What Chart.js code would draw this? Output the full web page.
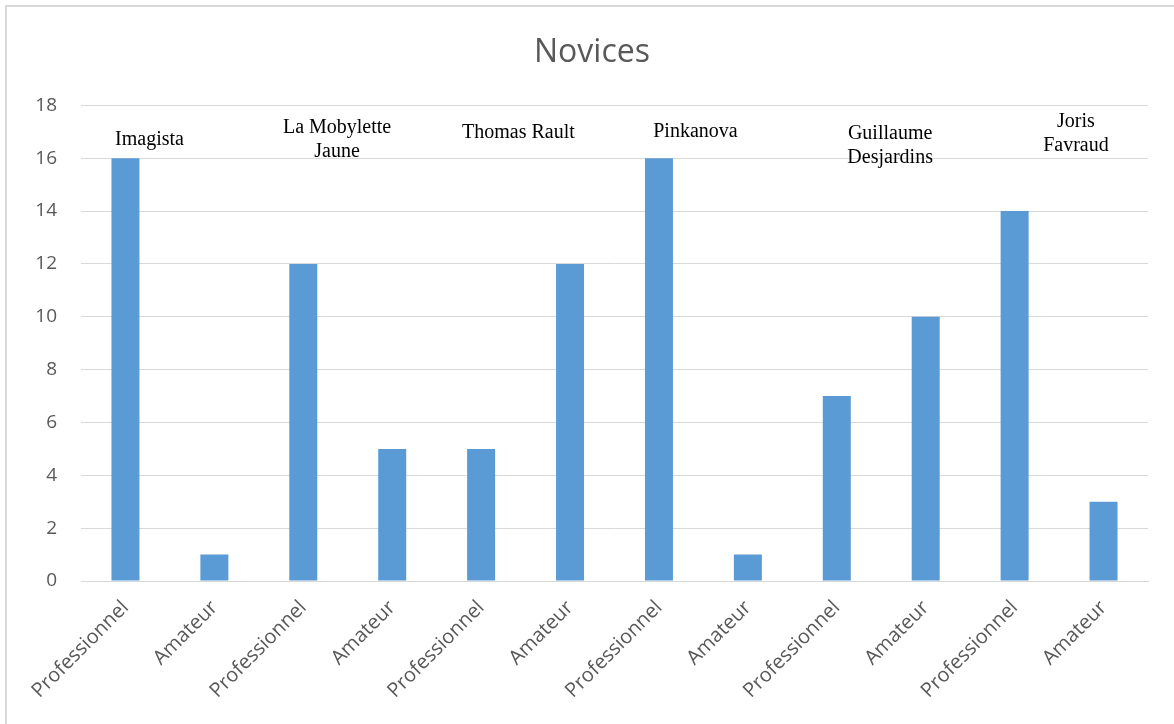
<!DOCTYPE html>
<html>
<head>
<meta charset="utf-8">
<script src="https://cdn.jsdelivr.net/npm/chart.js@4/dist/chart.umd.min.js"></script>
<style>
  html, body { margin: 0; padding: 0; background: #fff; }
  #wrap { position: relative; width: 1174px; height: 724px; overflow: hidden; }
  #frame {
    position: absolute; left: 5px; top: 5px; width: 1200px; height: 760px;
    border: 2px solid #d9d9d9; box-sizing: border-box; pointer-events: none;
  }
  canvas { position: absolute; left: 0; top: 0; }
</style>
</head>
<body>
<div id="wrap">
  <canvas id="chart" width="1174" height="724"></canvas>
  <div id="frame"></div>
</div>
<script>
const categories = [
  "Professionnel", "Amateur", "Professionnel", "Amateur",
  "Professionnel", "Amateur", "Professionnel", "Amateur",
  "Professionnel", "Amateur", "Professionnel", "Amateur"
];
const counts = [16, 1, 12, 5, 5, 12, 16, 1, 7, 10, 14, 3];
const yTicks = [0, 2, 4, 6, 8, 10, 12, 14, 16, 18];
const groups = [
  ["Imagista"],
  ["La Mobylette", "Jaune"],
  ["Thomas Rault"],
  ["Pinkanova"],
  ["Guillaume", "Desjardins"],
  ["Joris", "Favraud"]
];

// where each group name sits, in axis units (category index, value)
const groupAnchors = [
  [0.27, 16.49],
  [2.38, 16.94],
  [4.42, 16.75],
  [6.41, 16.79],
  [8.60, 16.72],
  [10.69, 17.2]
];

const groupLabels = {
  id: "groupLabels",
  afterDatasetsDraw(chart) {
    const { ctx, scales: { x, y } } = chart;
    ctx.save();
    ctx.fillStyle = "#000";
    ctx.font = "20px 'Liberation Serif', 'Times New Roman', serif";
    ctx.textAlign = "center";
    ctx.textBaseline = "alphabetic";
    groups.forEach((lines, i) => {
      const px = x.getPixelForValue(groupAnchors[i][0]);
      const py = y.getPixelForValue(groupAnchors[i][1]);
      lines.forEach((txt, j) => ctx.fillText(txt, px, py + j * 24));
    });
    ctx.restore();
  }
};

const textGray = "#595959";
const gridGray = "#d9d9d9";

new Chart(document.getElementById("chart"), {
  type: "bar",
  data: {
    labels: categories,
    datasets: [{
      label: "Novices",
      data: counts,
      backgroundColor: "#5b9bd5",
      barPercentage: 0.315,
      categoryPercentage: 1
    }]
  },
  options: {
    responsive: false,
    animation: false,
    layout: { padding: { left: 36, right: 26, top: 0, bottom: 0 } },
    plugins: {
      legend: { display: false },
      tooltip: { enabled: false },
      title: {
        display: true,
        text: "Novices",
        color: textGray,
        font: { family: "'Open Sans', sans-serif", size: 32, weight: "normal" },
        padding: { top: 34, bottom: 33 }
      }
    },
    scales: {
      x: {
        grid: { display: false, drawTicks: false },
        border: { display: true, color: gridGray, width: 1 },
        ticks: {
          color: textGray,
          font: { family: "'Open Sans', sans-serif", size: 20 },
          minRotation: 45,
          maxRotation: 45,
          autoSkip: false,
          padding: 15
        },
        afterFit(scale) { scale.height = 143; }
      },
      y: {
        min: 0,
        max: 18,
        afterBuildTicks(scale) { scale.ticks = yTicks.map(v => ({ value: v })); },
        grid: { color: gridGray, lineWidth: 1, drawTicks: false },
        border: { display: false },
        ticks: {
          color: textGray,
          font: { family: "'Open Sans', sans-serif", size: 19 },
          padding: 24
        },
        afterFit(scale) { scale.width = 45; }
      }
    }
  },
  plugins: [groupLabels]
});
</script>
</body>
</html>
